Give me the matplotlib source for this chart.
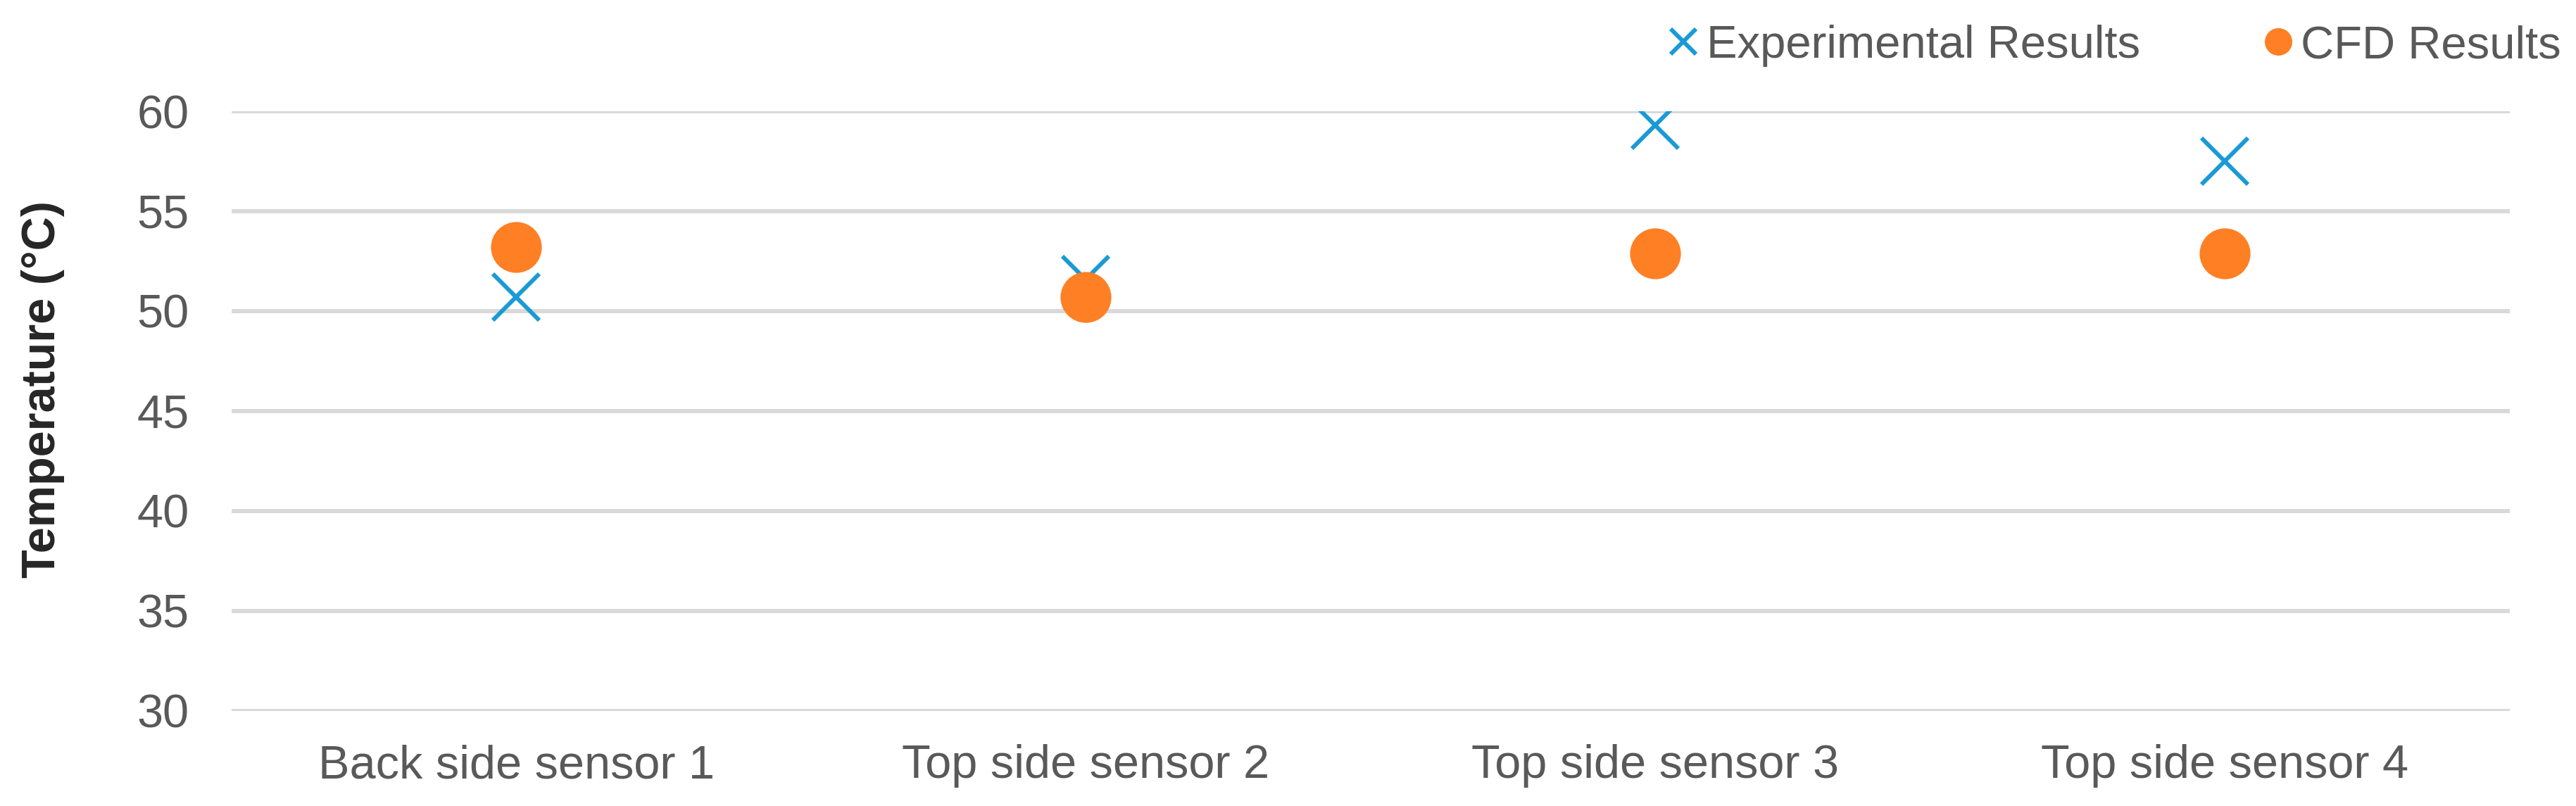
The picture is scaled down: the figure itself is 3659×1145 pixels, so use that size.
import numpy as np
import matplotlib.pyplot as plt

# sensor categories and measured / simulated temperatures (deg C)
sensors = ["Back side sensor 1", "Top side sensor 2", "Top side sensor 3", "Top side sensor 4"]
experimental = [50.7, 51.6, 59.3, 57.5]
cfd = [53.2, 50.7, 52.9, 52.9]
y_ticks = [30, 35, 40, 45, 50, 55, 60]

blue = "#1A9AD6"
orange = "#FF7F24"
grey = "#595959"

plt.rcParams["font.family"] = ["Liberation Sans", "DejaVu Sans"]

fig = plt.figure(figsize=(36.59, 11.45), dpi=100)
ax = fig.add_axes([0.0898, 0.118, 0.8844, 0.744])

x = np.arange(len(sensors))
ax.plot(x, experimental, linestyle="none", marker="x", markersize=48,
        markeredgewidth=4.3, color=blue, label="Experimental Results", zorder=3)
ax.plot(x, cfd, linestyle="none", marker="o", markersize=52,
        markeredgewidth=0, color=orange, label="CFD Results", zorder=4)

ax.set_xlim(-0.5, len(sensors) - 0.5)
ax.set_ylim(30, 60)
ax.set_yticks(y_ticks)
ax.set_xticks(x)
ax.set_xticklabels(sensors)
ax.grid(axis="y", color="#D9D9D9", linewidth=4.3)
ax.set_axisbelow(True)
for s in ax.spines.values():
    s.set_visible(False)
ax.tick_params(axis="both", length=0, labelsize=48, labelcolor=grey)
ax.tick_params(axis="y", pad=43)
ax.tick_params(axis="x", pad=34)

ax.set_ylabel("Temperature (°C)", fontsize=48, fontweight="bold", color="#262626")
ax.yaxis.set_label_coords(-0.073, 0.536)

leg = fig.legend(loc="center right", bbox_to_anchor=(0.9943, 0.943), ncol=2, frameon=False,
                 fontsize=47, markerscale=0.54, handletextpad=0.1, columnspacing=2.6,
                 handlelength=0.8, borderpad=0, borderaxespad=0)
for t in leg.get_texts():
    t.set_color(grey)

fig.savefig("out.png", dpi=100)
